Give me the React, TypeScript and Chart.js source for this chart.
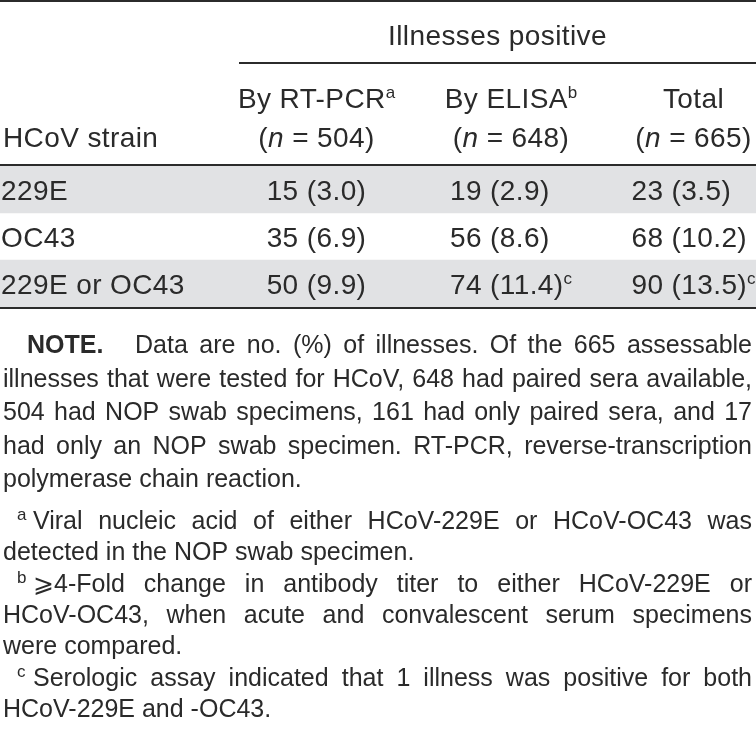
import React, { useEffect, useRef } from "react";
import { Chart, registerables } from "chart.js";

Chart.register(...registerables);

// ---- data ----
const strains = ["229E", "OC43", "229E or OC43"];
const rtpcrCount = [15, 35, 50];
const rtpcrPct = [3.0, 6.9, 9.9];
const elisaCount = [19, 56, 74];
const elisaPct = [2.9, 8.6, 11.4];
const totalCount = [23, 68, 90];
const totalPct = [3.5, 10.2, 13.5];
const rtpcrMark = ["", "", ""];
const elisaMark = ["", "", "c"];
const totalMark = ["", "", "c"];
const shaded = [true, false, true];

const spanHeader = "Illnesses positive";
const stubHeader = "HCoV strain";
const colHeaders = ["By RT-PCR", "By ELISA", "Total"];
const colHeaderMarks = ["a", "b", ""];
const colN = [504, 648, 665];

const noteLabel = "NOTE.";
const noteLines = [
  "Data are no. (%) of illnesses. Of the 665 assessable",
  "illnesses that were tested for HCoV, 648 had paired sera available,",
  "504 had NOP swab specimens, 161 had only paired sera, and 17",
  "had only an NOP swab specimen. RT-PCR, reverse-transcription",
  "polymerase chain reaction.",
];
const footMarks = ["a", "b", "c"];
const footLines = [
  ["Viral nucleic acid of either HCoV-229E or HCoV-OC43 was", "detected in the NOP swab specimen."],
  [
    "\u2A7E4-Fold change in antibody titer to either HCoV-229E or",
    "HCoV-OC43, when acute and convalescent serum specimens",
    "were compared.",
  ],
  ["Serologic assay indicated that 1 illness was positive for both", "HCoV-229E and -OC43."],
];

// ---- style / layout ----
const W = 756;
const H = 729;
const FAMILY = '"Liberation Sans", Arial, sans-serif';
const FS = 28;
const LS = 0.4;
const FSN = 25;
const LSN = 0;
const SUP = 17;
const TEXT = "#2a2a2a";
const RULE = "#2b2b2b";
const GRAY = "#e1e2e4";
const colCenters = [316.5, 511, 693.5];
const TABLE_TOP = 166;
const TABLE_BOTTOM = 307;

const fontL = (s: number, style = "") => `${style} 400 ${s}px ${FAMILY}`;

function setFont(ctx: CanvasRenderingContext2D, f: string, ls: number) {
  ctx.font = f;
  (ctx as any).letterSpacing = ls + "px";
}

function justify(ctx: CanvasRenderingContext2D, text: string, x0: number, x1: number, y: number, full: boolean) {
  const words = text.split(" ");
  if (!full || words.length < 2) {
    ctx.fillText(text, x0, y);
    return;
  }
  const total = words.reduce((s, w) => s + ctx.measureText(w).width, 0);
  const gap = (x1 - x0 - total) / (words.length - 1);
  let x = x0;
  for (const w of words) {
    ctx.fillText(w, x, y);
    x += ctx.measureText(w).width + gap;
  }
}

const tablePlugin = {
  id: "tableText",
  beforeDraw(chart: any) {
    const ctx = chart.ctx as CanvasRenderingContext2D;
    ctx.save();
    ctx.fillStyle = "#ffffff";
    ctx.fillRect(0, 0, chart.width, chart.height);
    ctx.restore();
  },
  afterDatasetsDraw(chart: any) {
    const ctx = chart.ctx as CanvasRenderingContext2D;
    const area = chart.chartArea;
    const yS = chart.scales.y;
    const xS = chart.scales.x;
    const px = (v: number) => xS.getPixelForValue(v / W);
    ctx.save();
    ctx.textBaseline = "alphabetic";
    ctx.textAlign = "left";

    // rules
    ctx.fillStyle = RULE;
    ctx.fillRect(px(0), 0, px(W) - px(0), 2);
    ctx.fillRect(px(239), 62, px(W) - px(239), 2);
    ctx.fillRect(px(0), area.top - 2, px(W) - px(0), 2);
    ctx.fillRect(px(0), area.bottom, px(W) - px(0), 2);

    ctx.fillStyle = TEXT;
    const cap = FS * 0.716;
    const main = () => setFont(ctx, fontL(FS), LS);
    const ital = () => setFont(ctx, fontL(FS, "italic"), LS);
    const sup = () => setFont(ctx, fontL(SUP), 0);

    // span header
    main();
    const spanW = ctx.measureText(spanHeader).width;
    ctx.fillText(spanHeader, (px(239) + px(W)) / 2 - spanW / 2, 45);

    // stub header
    ctx.fillText(stubHeader, px(3), 147);

    // column headers
    colHeaders.forEach((h, i) => {
      main();
      const hw = ctx.measureText(h).width;
      sup();
      const mw = colHeaderMarks[i] ? ctx.measureText(colHeaderMarks[i]).width : 0;
      const x0 = px(colCenters[i]) - (hw + mw) / 2;
      main();
      ctx.fillText(h, x0, 108);
      if (colHeaderMarks[i]) {
        sup();
        ctx.fillText(colHeaderMarks[i], x0 + hw, 98);
      }
      // (n = N)
      main();
      const p1 = "(";
      const p3 = " = " + colN[i] + ")";
      const w1 = ctx.measureText(p1).width;
      const w3 = ctx.measureText(p3).width;
      ital();
      const w2 = ctx.measureText("n").width;
      let x = Math.min(px(colCenters[i]) - (w1 + w2 + w3) / 2, px(W) - (w1 + w2 + w3));
      main();
      ctx.fillText(p1, x, 147);
      x += w1;
      ital();
      ctx.fillText("n", x, 147);
      x += w2;
      main();
      ctx.fillText(p3, x, 147);
    });

    // body
    const cols = [
      { c: rtpcrCount, p: rtpcrPct, m: rtpcrMark },
      { c: elisaCount, p: elisaPct, m: elisaMark },
      { c: totalCount, p: totalPct, m: totalMark },
    ];
    cols.forEach((col, ci) => {
      const texts = col.c.map((n, r) => `${n} (${col.p[r].toFixed(1)})`);
      const widths = texts.map((t, r) => {
        main();
        const tw = ctx.measureText(t).width;
        sup();
        return tw + (col.m[r] ? ctx.measureText(col.m[r]).width : 0);
      });
      const maxW = Math.max(...widths);
      const left = Math.min(px(colCenters[ci]) - maxW / 2, px(W) - maxW);
      texts.forEach((t, r) => {
        const yb = yS.getPixelForValue(r) + cap / 2;
        main();
        ctx.fillText(t, left, yb);
        if (col.m[r]) {
          const tw = ctx.measureText(t).width;
          sup();
          ctx.fillText(col.m[r], left + tw, yb - 10);
        }
      });
    });
    main();
    strains.forEach((s, r) => {
      ctx.fillText(s, px(1), yS.getPixelForValue(r) + cap / 2);
    });

    // notes
    const R = px(752);
    const noteBase = [353, 386.5, 420, 453.5, 487];
    setFont(ctx, `bold ${FSN}px ${FAMILY}`, LSN);
    ctx.fillText(noteLabel, px(27), noteBase[0]);
    setFont(ctx, fontL(FSN), LSN);
    noteLines.forEach((ln, i) => {
      const x0 = i === 0 ? px(135) : px(3);
      justify(ctx, ln, x0, R, noteBase[i], i < noteLines.length - 1);
    });

    const footBase = [
      [529, 560],
      [592, 623, 654],
      [686, 717],
    ];
    footLines.forEach((lines, fi) => {
      setFont(ctx, fontL(SUP), 0);
      ctx.fillText(footMarks[fi], px(17), footBase[fi][0] - 9);
      setFont(ctx, fontL(FSN), LSN);
      lines.forEach((ln, li) => {
        const x0 = li === 0 ? px(33) : px(3);
        justify(ctx, ln, x0, R, footBase[fi][li], li < lines.length - 1);
      });
    });

    ctx.restore();
  },
};

export default function App() {
  const ref = useRef<HTMLCanvasElement>(null);
  useEffect(() => {
    const chart = new Chart(ref.current as HTMLCanvasElement, {
      type: "bar",
      data: {
        labels: strains,
        datasets: [
          {
            data: shaded.map((s) => (s ? [0, 1] : null)) as any,
            backgroundColor: GRAY,
            borderWidth: 0,
            barPercentage: 1,
            categoryPercentage: 1,
          },
        ],
      },
      options: {
        indexAxis: "y",
        animation: false,
        responsive: false,
        maintainAspectRatio: false,
        devicePixelRatio: 1,
        events: [],
        layout: { padding: { top: TABLE_TOP, bottom: H - TABLE_BOTTOM, left: 0, right: 0 } },
        scales: {
          x: { type: "linear", min: 0, max: 1, display: false },
          y: { type: "category", display: false, offset: true },
        },
        plugins: { legend: { display: false }, tooltip: { enabled: false } },
      } as any,
      plugins: [tablePlugin],
    });
    return () => chart.destroy();
  }, []);
  return (
    <div style={{ position: "absolute", left: 0, top: 0, width: W, height: H }}>
      <canvas ref={ref} width={W} height={H} style={{ display: "block", width: W, height: H }} />
    </div>
  );
}
